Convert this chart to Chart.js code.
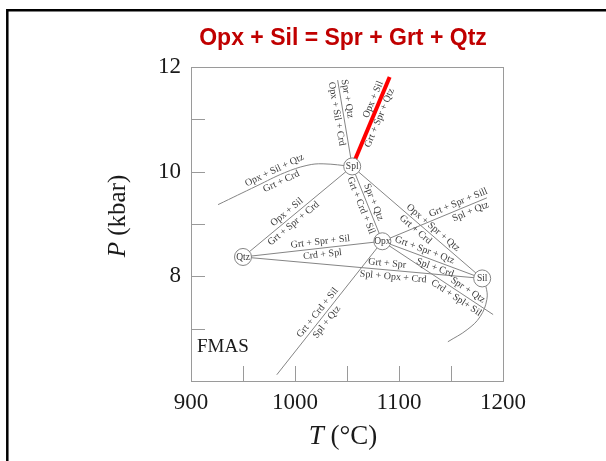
<!DOCTYPE html>
<html>
<head>
<meta charset="utf-8">
<script src="https://cdn.jsdelivr.net/npm/chart.js@4.4.1/dist/chart.umd.min.js"></script>
<style>
  html, body { margin: 0; padding: 0; background: #fff; }
  #wrap { width: 606px; height: 461px; }
</style>
</head>
<body>
<div id="wrap"><canvas id="gridChart" width="606" height="461"></canvas></div>
<script>
// axis ticks
const tempTicks = [900, 1000, 1100, 1200];
const tempMinor = [950, 1000, 1050, 1100, 1150];
const presTicks = [8, 10, 12];
const presMinor = [7, 8, 9, 10, 11];

// invariant points
const pointNames = ['Spl', 'Opx', 'Qtz', 'Sil'];
const pointT = [1055, 1084, 950, 1180];
const pointP = [10.10, 8.67, 8.37, 7.96];

// univariant reactions, [T, P]
const splUp = [[1055, 10.10], [1041, 11.75]];
const splRed = [[1055, 10.10], [1091, 11.81]];
const splCurve = [[1055, 10.10], [1027, 10.15], [1011.5, 10.12], [990, 9.98], [963.5, 9.73], [926, 9.37]];
const splQtz = [[1055, 10.10], [950, 8.37]];
const qtzOpx = [[950, 8.37], [1084, 8.67]];
const qtzSil = [[950, 8.37], [1180, 7.96]];
const splOpx = [[1055, 10.10], [1084, 8.67]];
const splSil = [[1055, 10.10], [1180, 7.96]];
const opxNE = [[1084, 8.67], [1184.5, 9.50]];
const opxSil = [[1084, 8.67], [1180, 7.96]];
const opxSE = [[1084, 8.67], [1190.5, 7.27]];
const opxSW = [[1084, 8.67], [982.5, 6.12]];
const silCurve = [[1180, 7.96], [1183.5, 7.81], [1184.5, 7.56], [1178, 7.23], [1165.5, 6.98], [1147, 6.75]];

// reaction labels: line, fraction along it, side (1 = above), text
const lineLabels = [
  [splUp, 0.77, 1, 'Spr + Qtz'],
  [splUp, 0.62, -1, 'Opx + Sil + Crd'],
  [splRed, 0.72, 1, 'Opx + Sil'],
  [splRed, 0.57, -1, 'Grt + Spr + Qtz'],
  [splCurve, 0.54, 1, 'Opx + Sil + Qtz'],
  [splCurve, 0.53, -1, 'Grt + Crd'],
  [splQtz, 0.56, 1, 'Opx + Sil'],
  [splQtz, 0.575, -1, 'Grt + Spr + Crd'],
  [qtzOpx, 0.56, 1, 'Grt + Spr + Sil'],
  [qtzOpx, 0.565, -1, 'Crd + Spl'],
  [qtzSil, 0.60, 1, 'Grt + Spr'],
  [qtzSil, 0.63, -1, 'Spl + Opx + Crd'],
  [splOpx, 0.49, -1, 'Grt + Crd + Sil'],
  [splOpx, 0.51, 1, 'Spr + Qtz'],
  [splSil, 0.59, 1, 'Opx + Spr + Qtz'],
  [splSil, 0.52, -1, 'Grt + Crd'],
  [opxNE, 0.75, 1, 'Grt + Spr + Sill'],
  [opxNE, 0.82, -1, 'Spl + Qtz'],
  [opxSil, 0.40, 1, 'Grt + Spr + Qtz'],
  [opxSil, 0.55, -1, 'Spl + Crd'],
  [opxSE, 0.74, 1, 'Spr + Qtz'],
  [opxSE, 0.70, -1, 'Crd + Spl+ Sil'],
  [opxSW, 0.565, 1, 'Grt + Crd + Sil'],
  [opxSW, 0.575, -1, 'Spl + Qtz']
];

const greyLines = [splUp, splCurve, splQtz, qtzOpx, qtzSil, splOpx, splSil, opxNE, opxSil, opxSE, opxSW, silCurve];
const curved = [splCurve, silCurve];

const LINE_GREY = '#858585';
const TEXT_GREY = '#3a3a3a';
const SERIF = '"Liberation Serif", "Times New Roman", serif';

function toXY(pts) {
    return pts.map(p => ({ x: p[0], y: p[1] }));
}

function pixelsOf(chart, pts) {
    const xs = chart.scales.x, ys = chart.scales.y;
    return pts.map(p => [xs.getPixelForValue(p[0]), ys.getPixelForValue(p[1])]);
}

function pointAlong(px, t) {
    const segs = [];
    let total = 0;
    for (let i = 0; i < px.length - 1; i++) {
        const len = Math.hypot(px[i + 1][0] - px[i][0], px[i + 1][1] - px[i][1]);
        segs.push(len);
        total += len;
    }
    let target = t * total;
    for (let i = 0; i < segs.length; i++) {
        if (target <= segs[i] || i === segs.length - 1) {
            const f = target / segs[i];
            const a = px[i], b = px[i + 1];
            let ang = Math.atan2(b[1] - a[1], b[0] - a[0]);
            if (ang > Math.PI / 2) ang -= Math.PI;
            if (ang <= -Math.PI / 2) ang += Math.PI;
            return { x: a[0] + (b[0] - a[0]) * f, y: a[1] + (b[1] - a[1]) * f, ang: ang };
        }
        target -= segs[i];
    }
}

// mixed italic / upright text, centred on 0
function drawMixed(ctx, parts, size) {
    let width = 0;
    parts.forEach(p => {
        ctx.font = (p[1] ? 'italic ' : '') + size + 'px ' + SERIF;
        width += ctx.measureText(p[0]).width;
    });
    let x = -width / 2;
    parts.forEach(p => {
        ctx.font = (p[1] ? 'italic ' : '') + size + 'px ' + SERIF;
        ctx.fillText(p[0], x, 0);
        x += ctx.measureText(p[0]).width;
    });
}

const decorations = {
    id: 'decorations',
    beforeDraw(chart) {
        const ctx = chart.ctx;
        ctx.save();
        ctx.fillStyle = '#fff';
        ctx.fillRect(0, 0, chart.width, chart.height);
        // slide border
        ctx.strokeStyle = '#000';
        ctx.lineWidth = 2.5;
        ctx.beginPath();
        ctx.moveTo(7.3, chart.height);
        ctx.lineTo(7.3, 10.2);
        ctx.lineTo(chart.width, 10.2);
        ctx.stroke();
        ctx.restore();
    },
    afterDatasetsDraw(chart) {
        const ctx = chart.ctx;
        const area = chart.chartArea;
        const xs = chart.scales.x, ys = chart.scales.y;
        ctx.save();

        // frame and inward ticks
        ctx.strokeStyle = '#9a9a9a';
        ctx.lineWidth = 1;
        ctx.strokeRect(area.left + 0.5, area.top + 0.5, area.right - area.left, area.bottom - area.top);
        ctx.beginPath();
        tempMinor.forEach(v => {
            const x = Math.round(xs.getPixelForValue(v)) + 0.5;
            ctx.moveTo(x, area.bottom);
            ctx.lineTo(x, area.bottom - 15);
        });
        presMinor.forEach(v => {
            const y = Math.round(ys.getPixelForValue(v)) + 0.5;
            ctx.moveTo(area.left, y);
            ctx.lineTo(area.left + 14, y);
        });
        ctx.stroke();

        // reaction labels
        ctx.fillStyle = TEXT_GREY;
        ctx.font = '10px ' + SERIF;
        ctx.textAlign = 'center';
        ctx.textBaseline = 'middle';
        lineLabels.forEach(l => {
            const p = pointAlong(pixelsOf(chart, l[0]), l[1]);
            ctx.save();
            ctx.translate(p.x, p.y);
            ctx.rotate(p.ang);
            ctx.fillText(l[3], 0, -l[2] * 6.5);
            ctx.restore();
        });

        // invariant point names
        ctx.font = '9.5px ' + SERIF;
        pointNames.forEach((n, i) => {
            ctx.fillText(n, xs.getPixelForValue(pointT[i]), ys.getPixelForValue(pointP[i]) + 0.5);
        });

        // system label
        ctx.textAlign = 'left';
        ctx.textBaseline = 'alphabetic';
        ctx.fillStyle = '#1a1a1a';
        ctx.font = '19px ' + SERIF;
        ctx.fillText('FMAS', area.left + 6, area.bottom - 29);

        // axis titles
        ctx.fillStyle = '#1a1a1a';
        ctx.textAlign = 'left';
        ctx.textBaseline = 'middle';
        ctx.save();
        ctx.translate(118, 216);
        ctx.rotate(-Math.PI / 2);
        drawMixed(ctx, [['P', true], [' (kbar)', false]], 25);
        ctx.restore();
        ctx.save();
        ctx.translate((area.left + area.right) / 2 - 4, area.bottom + 56);
        drawMixed(ctx, [['T', true], [' (\u00B0C)', false]], 27);
        ctx.restore();

        // heading
        ctx.fillStyle = '#c00000';
        ctx.font = 'bold 23px "Liberation Sans", Arial, sans-serif';
        ctx.textAlign = 'center';
        ctx.textBaseline = 'alphabetic';
        ctx.fillText('Opx + Sil = Spr + Grt + Qtz', 343, 45);

        ctx.restore();
    }
};

const datasets = greyLines.map(line => ({
    data: toXY(line),
    showLine: true,
    borderColor: LINE_GREY,
    borderWidth: 1,
    pointRadius: 0,
    tension: curved.includes(line) ? 0.4 : 0,
    order: 2
}));
datasets.push({
    data: toXY(splRed),
    showLine: true,
    borderColor: '#ff0000',
    borderWidth: 4,
    borderCapStyle: 'butt',
    pointRadius: 0,
    order: 1
});
datasets.push({
    data: pointT.map((t, i) => ({ x: t, y: pointP[i] })),
    showLine: false,
    pointRadius: 8.5,
    pointBackgroundColor: '#fff',
    pointBorderColor: LINE_GREY,
    pointBorderWidth: 1,
    order: 0
});

const tickFont = { family: SERIF, size: 23 };

new Chart(document.getElementById('gridChart'), {
    type: 'scatter',
    data: { datasets: datasets },
    options: {
        responsive: false,
        animation: false,
        events: [],
        layout: { padding: { top: 67, right: 103, left: 0, bottom: 0 } },
        plugins: {
            legend: { display: false },
            tooltip: { enabled: false }
        },
        scales: {
            x: {
                type: 'linear',
                min: 900,
                max: 1200,
                grid: { display: false, drawTicks: false },
                border: { display: false },
                ticks: {
                    stepSize: 100,
                    padding: 8,
                    color: '#1a1a1a',
                    font: tickFont,
                    callback: v => tempTicks.includes(v) ? v : ''
                },
                afterFit: s => { s.height = 80; }
            },
            y: {
                type: 'linear',
                min: 6,
                max: 12,
                grid: { display: false, drawTicks: false },
                border: { display: false },
                ticks: {
                    stepSize: 1,
                    padding: 10,
                    color: '#1a1a1a',
                    font: tickFont,
                    callback: v => presTicks.includes(v) ? v : ''
                },
                afterFit: s => { s.width = 191; }
            }
        }
    },
    plugins: [decorations]
});
</script>
</body>
</html>
